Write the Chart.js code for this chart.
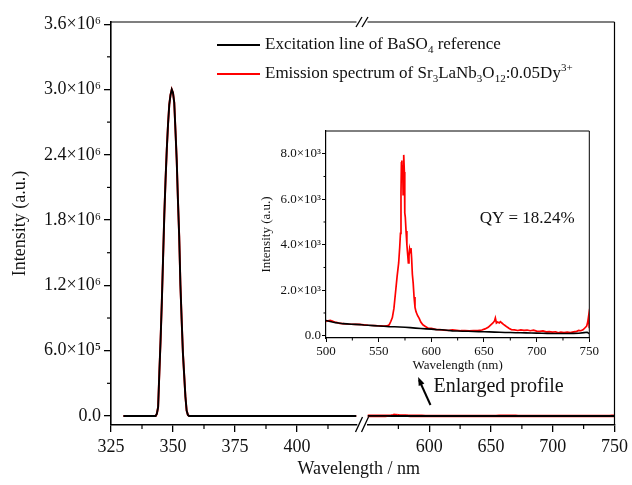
<!DOCTYPE html>
<html>
<head>
<meta charset="utf-8">
<script src="https://cdn.jsdelivr.net/npm/chart.js@4.4.0/dist/chart.umd.min.js"></script>
<style>
  body { margin: 0; background: #fff; }
  #wrap { position: relative; width: 632px; height: 485px; font-family: 'Liberation Serif', 'Times New Roman', serif; color: #111; }
  #main { position: absolute; left: 0; top: 0; }
  #inset { position: absolute; left: 250px; top: 110px; }
  .leg { position: absolute; left: 217px; font-size: 17px; line-height: 22px; white-space: nowrap; }
  .leg i { display: inline-block; width: 43px; height: 0; border-top: 2px solid; vertical-align: middle; margin-right: 5px; }
  .leg sub, .leg sup { font-size: 11px; line-height: 0; }
</style>
</head>
<body>
<div id="wrap">
  <canvas id="main" width="632" height="485"></canvas>
  <canvas id="inset" width="360" height="290"></canvas>
  <div class="leg" style="top:33px"><i style="border-color:#000"></i>Excitation line of BaSO<sub>4</sub> reference</div>
  <div class="leg" style="top:62px"><i style="border-color:#f00"></i>Emission spectrum of Sr<sub>3</sub>LaNb<sub>3</sub>O<sub>12</sub>:0.05Dy<sup>3+</sup></div>
</div>
<script>
// excitation line (BaSO4 reference), main plot left segment
const peakNm = [330, 343, 343.5, 344, 344.5, 345, 345.5, 346, 346.5, 347, 347.5, 348, 348.5, 349, 349.5,
  350, 350.5, 351, 351.5, 352, 352.5, 353, 353.5, 354, 354.5, 355, 355.5, 356, 356.5, 424];
const peakInt = [0, 0, 0.02e6, 0.08e6, 0.4e6, 0.7e6, 1.05e6, 1.45e6, 1.85e6, 2.17e6, 2.45e6, 2.68e6, 2.86e6, 2.95e6, 3.0e6,
  2.97e6, 2.88e6, 2.62e6, 2.35e6, 1.98e6, 1.65e6, 1.2e6, 0.88e6, 0.58e6, 0.38e6, 0.18e6, 0.05e6, 0.01e6, 0, 0];

// emission spectrum of the sample, 500-750 nm
const emNm = [500, 502, 504, 506, 508, 510, 513, 516, 520, 524, 528, 532, 536, 540, 544, 548, 550, 552, 555, 558, 560,
  561.5, 563, 564.5, 566, 567.5, 569, 570, 570.7, 571.2, 571.6, 572, 572.4, 572.8, 573.2, 573.6, 574, 574.4, 574.8,
  575.3, 576, 576.8, 577.5, 578.2, 578.8, 579.4, 580, 580.7, 581.3, 582, 582.8, 583.6, 584.5, 585.5, 587, 588.5,
  590, 592, 594, 597, 600, 604, 608, 612, 616, 620, 624, 628, 632, 636, 640, 644, 648, 651, 654, 656.5, 658.5,
  660, 660.8, 661.8, 663, 664.5, 665.5, 667, 668.5, 670, 672, 674, 676, 679, 682, 685, 688, 691, 694, 697, 700,
  703, 706, 709, 712, 715, 718, 720.5, 723, 726, 729, 732, 735, 738, 740, 742, 744, 746, 747.5, 748.5, 749.3, 750];
const emInt = [625, 660, 670, 640, 600, 585, 540, 530, 515, 505, 500, 495, 480, 460, 450, 440, 438, 437, 420, 430, 480,
  625, 800, 1200, 1900, 2600, 3200, 3900, 4500, 6300, 7600, 7700, 6900, 7500, 6200, 7400, 7950, 7200, 5400,
  5200, 4600, 4000, 3600, 3200, 3500, 3800, 3650, 3850, 3400, 2700, 2300, 1700, 1250, 1050, 880, 760,
  600, 480, 420, 330, 320, 280, 270, 250, 230, 260, 240, 220, 230, 215, 220, 225, 250, 300, 370, 480, 560,
  650, 780, 560, 600, 560, 620, 560, 500, 450, 380, 320, 270, 260, 230, 260, 235, 250, 220, 245, 200,
  190, 215, 170, 180, 160, 175, 130, 160, 140, 155, 135, 170, 190, 230, 220, 260, 350, 420, 600, 850, 330];

// excitation line of reference, 500-750 nm
const refNm = [500, 503, 506, 509, 512, 516, 520, 524, 528, 532, 536, 540, 545, 550, 555, 560, 565, 570, 575, 580,
  585, 590, 595, 600, 605, 610, 615, 620, 625, 630, 635, 640, 645, 650, 655, 660, 665, 670, 675, 680, 685, 690,
  695, 700, 705, 710, 715, 720, 725, 730, 735, 740, 745, 748, 750];
const refInt = [670, 640, 600, 575, 560, 530, 520, 505, 500, 490, 470, 460, 445, 430, 415, 400, 395, 385, 370, 355,
  335, 315, 300, 290, 270, 260, 240, 215, 205, 200, 195, 185, 180, 175, 170, 160, 150, 145, 140, 130, 130, 125,
  120, 115, 110, 105, 100, 100, 100, 100, 105, 110, 135, 150, 90];

// ticks
const mainXLeftTicks = [325, 350, 375, 400];
const mainXLeftMinor = [337.5, 362.5, 387.5, 412.5];
const mainXRightTicks = [600, 650, 700, 750];
const mainXRightMinor = [575, 625, 675, 725];
const mainYTicks = [0, 6e5, 1.2e6, 1.8e6, 2.4e6, 3.0e6, 3.6e6];
const mainYLabels = ['0.0', '6.0×10⁵', '1.2×10⁶', '1.8×10⁶', '2.4×10⁶', '3.0×10⁶', '3.6×10⁶'];
const mainYMinor = [3e5, 9e5, 1.5e6, 2.1e6, 2.7e6, 3.3e6];
const insetXTicks = [500, 550, 600, 650, 700, 750];
const insetXMinor = [525, 575, 625, 675, 725];
const insetYTicks = [0, 2000, 4000, 6000, 8000];
const insetYLabels = ['0.0', '2.0×10³', '4.0×10³', '6.0×10³', '8.0×10³'];
const insetYMinor = [1000, 3000, 5000, 7000];

const serif = "'Liberation Serif', 'Times New Roman', serif";
const pts = (xs, ys) => xs.map((x, i) => ({ x: x, y: ys[i] }));
const within = (arr, lo, hi) => arr.filter(p => p.x >= lo && p.x <= hi);
const setTicks = vals => s => { s.ticks = vals.map(v => ({ value: v })); };

function line(ctx, x1, y1, x2, y2) {
  ctx.beginPath(); ctx.moveTo(x1, y1); ctx.lineTo(x2, y2); ctx.stroke();
}

// minor ticks, frame, axis break marks and notes
const decor = {
  id: 'decor',
  afterDraw(chart, args, opts) {
    const ctx = chart.ctx;
    const a = chart.chartArea;
    ctx.save();
    ctx.strokeStyle = '#000';
    ctx.lineWidth = opts.lw;
    opts.minor.forEach(m => {
      const s = chart.scales[m.axis];
      m.values.forEach(v => {
        if (s.isHorizontal()) {
          const x = s.getPixelForValue(v);
          line(ctx, x, s.top, x, s.top + m.len);
        } else {
          const y = s.getPixelForValue(v);
          line(ctx, s.right - m.len, y, s.right, y);
        }
      });
    });
    if (opts.broken) {
      const xa = chart.scales.x1.right, xb = chart.scales.x2.left;
      line(ctx, a.left, a.top, xa, a.top);
      line(ctx, xb, a.top, a.right, a.top);
      line(ctx, a.right, a.top, a.right, a.bottom);
      const c = (xa + xb) / 2;
      ctx.lineWidth = 1.3;
      [-3, 3].forEach(d => {
        line(ctx, c + d - 3.5, a.bottom + 7, c + d + 3.5, a.bottom - 8);
        line(ctx, c + d - 3, a.top + 5, c + d + 3, a.top - 5);
      });
      // axis title
      ctx.fillStyle = '#111';
      ctx.font = '18px ' + serif;
      ctx.textAlign = 'center';
      ctx.textBaseline = 'middle';
      ctx.fillText('Wavelength / nm', (a.left + a.right) / 2 - 4, 469);
      // note with arrow
      const ys = chart.scales.y, x2 = chart.scales.x2;
      const y0 = ys.getPixelForValue(0);
      const tx = x2.getPixelForValue(601), ty = y0 - 11;
      const hx = x2.getPixelForValue(591), hy = y0 - 39;
      ctx.lineWidth = 2;
      line(ctx, tx, ty, hx + 1, hy + 3);
      const ang = Math.atan2(hy - ty, hx - tx);
      ctx.beginPath();
      ctx.moveTo(hx, hy);
      ctx.lineTo(hx - 9 * Math.cos(ang - 0.35), hy - 9 * Math.sin(ang - 0.35));
      ctx.lineTo(hx - 9 * Math.cos(ang + 0.35), hy - 9 * Math.sin(ang + 0.35));
      ctx.closePath();
      ctx.fillStyle = '#000';
      ctx.fill();
      ctx.fillStyle = '#111';
      ctx.font = '20px ' + serif;
      ctx.textAlign = 'left';
      ctx.fillText('Enlarged profile', tx + 3, y0 - 29);
    } else {
      line(ctx, a.left, a.top, a.right, a.top);
      line(ctx, a.right, a.top, a.right, a.bottom);
      ctx.fillStyle = '#111';
      ctx.font = '17px ' + serif;
      ctx.textAlign = 'center';
      ctx.textBaseline = 'middle';
      ctx.fillText('QY = 18.24%', chart.scales.x.getPixelForValue(691), chart.scales.y.getPixelForValue(5150));
    }
    ctx.restore();
  }
};

const mainTickFont = { family: serif, size: 18 };
const xCommon = {
  type: 'linear', axis: 'x', position: 'bottom', stack: 'wl',
  afterFit: s => { s.height = 60; },
  grid: { drawOnChartArea: false, tickLength: 7, color: '#000', lineWidth: 1.3 },
  border: { color: '#000', width: 1.6 },
};

new Chart(document.getElementById('main'), {
  type: 'line',
  data: {
    datasets: [
      { label: 'Excitation line of BaSO4 reference', xAxisID: 'x1', data: pts(peakNm, peakInt),
        borderColor: '#000', borderWidth: 1.9 },
      { label: 'Excitation line of BaSO4 reference', xAxisID: 'x2', data: within(pts(refNm, refInt), 550, 750),
        borderColor: '#000', borderWidth: 1.9 },
      { label: 'Emission spectrum of Sr3LaNb3O12:0.05Dy3+', xAxisID: 'x1', data: pts(peakNm, peakInt),
        borderColor: '#ff0000', borderWidth: 2.0 },
      { label: 'Emission spectrum of Sr3LaNb3O12:0.05Dy3+', xAxisID: 'x2', data: within(pts(emNm, emInt), 550, 750),
        borderColor: '#ff0000', borderWidth: 2.6 }
    ]
  },
  options: {
    responsive: false,
    animation: false,
    layout: { padding: { top: 22, right: 17, bottom: 0, left: 0 } },
    elements: { point: { radius: 0 }, line: { tension: 0 } },
    plugins: {
      legend: { display: false },
      tooltip: { enabled: false },
      decor: {
        lw: 1.2, broken: true,
        minor: [
          { axis: 'x1', values: mainXLeftMinor, len: 4 },
          { axis: 'x2', values: mainXRightMinor, len: 4 },
          { axis: 'y', values: mainYMinor, len: 4 }
        ]
      }
    },
    scales: {
      x1: Object.assign({}, xCommon, {
        stackWeight: 245.5, min: 325, max: 424,
        afterBuildTicks: setTicks(mainXLeftTicks),
        ticks: { font: mainTickFont, color: '#111', padding: 4, autoSkip: false, maxRotation: 0 }
      }),
      xg: Object.assign({}, xCommon, {
        stackWeight: 11, min: 0, max: 1,
        grid: { display: false }, border: { display: false }, ticks: { display: false }
      }),
      x2: Object.assign({}, xCommon, {
        stackWeight: 247, min: 550, max: 750,
        afterBuildTicks: setTicks(mainXRightTicks),
        ticks: { font: mainTickFont, color: '#111', padding: 4, autoSkip: false, maxRotation: 0 }
      }),
      y: {
        type: 'linear', position: 'left', min: -0.083e6, max: 3.62e6,
        afterBuildTicks: setTicks(mainYTicks),
        afterFit: s => { s.width = 111; },
        ticks: { callback: (v, i) => mainYLabels[i], font: mainTickFont, color: '#111', padding: 3, autoSkip: false },
        grid: { drawOnChartArea: false, tickLength: 7, color: '#000', lineWidth: 1.3 },
        border: { color: '#000', width: 1.6 },
        title: { display: true, text: 'Intensity (a.u.)', font: { family: serif, size: 18 }, color: '#111', padding: { top: 9 } }
      }
    }
  },
  plugins: [decor]
});

const insetTickFont = { family: serif, size: 13 };
new Chart(document.getElementById('inset'), {
  type: 'line',
  data: {
    datasets: [
      { label: 'Excitation line of BaSO4 reference', data: pts(refNm, refInt), borderColor: '#000', borderWidth: 1.6 },
      { label: 'Emission spectrum of Sr3LaNb3O12:0.05Dy3+', data: pts(emNm, emInt), borderColor: '#ff0000', borderWidth: 1.7 }
    ]
  },
  options: {
    responsive: false,
    animation: false,
    layout: { padding: { top: 21, right: 20.7, bottom: 0, left: 0 } },
    elements: { point: { radius: 0 }, line: { tension: 0 } },
    plugins: {
      legend: { display: false },
      tooltip: { enabled: false },
      decor: {
        lw: 1, broken: false,
        minor: [
          { axis: 'x', values: insetXMinor, len: 2.5 },
          { axis: 'y', values: insetYMinor, len: 2.5 }
        ]
      }
    },
    scales: {
      x: {
        type: 'linear', min: 500, max: 750,
        afterBuildTicks: setTicks(insetXTicks),
        afterFit: s => { s.height = 62; },
        ticks: { font: insetTickFont, color: '#111', padding: 2, autoSkip: false, maxRotation: 0 },
        grid: { drawOnChartArea: false, tickLength: 4, color: '#000', lineWidth: 1 },
        border: { color: '#000', width: 1.2 },
        title: { display: true, text: 'Wavelength (nm)', font: { family: serif, size: 13 }, color: '#111', padding: { top: 0, bottom: 27 } }
      },
      y: {
        type: 'linear', min: -100, max: 9000,
        afterBuildTicks: setTicks(insetYTicks),
        afterFit: s => { s.width = 76; },
        ticks: { callback: (v, i) => insetYLabels[i], font: insetTickFont, color: '#111', padding: 1, autoSkip: false },
        grid: { drawOnChartArea: false, tickLength: 4, color: '#000', lineWidth: 1 },
        border: { color: '#000', width: 1.2 },
        title: { display: true, text: 'Intensity (a.u.)', font: { family: serif, size: 13 }, color: '#111', padding: { top: 9 } }
      }
    }
  },
  plugins: [decor]
});
</script>
</body>
</html>
